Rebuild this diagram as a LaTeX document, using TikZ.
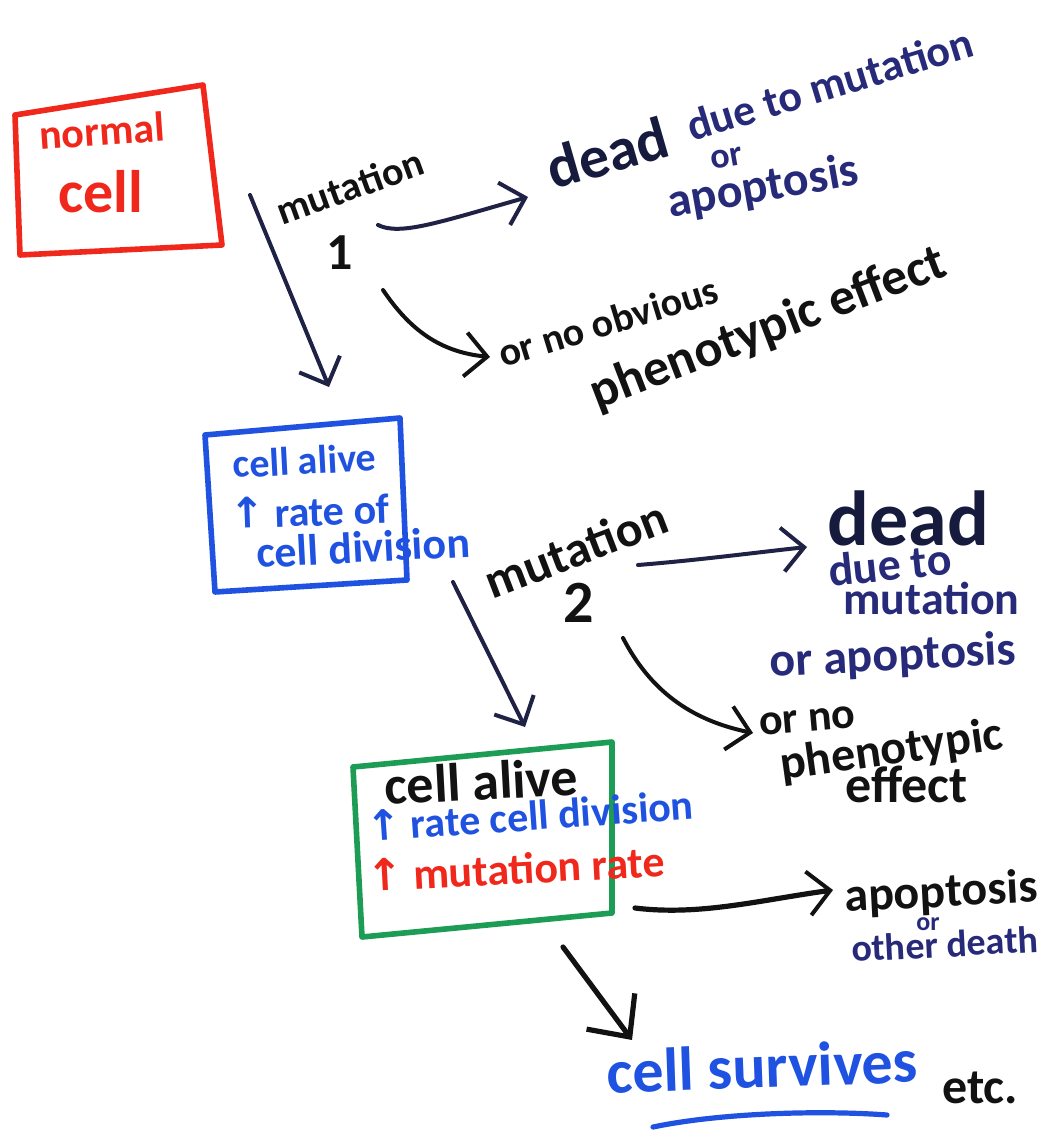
\documentclass[tikz,border=0pt]{standalone}
\usepackage{fontspec}
\setmainfont{Carlito}
\newfontfamily\arrfont{DejaVu Sans}
\usetikzlibrary{arrows.meta}
\definecolor{inkarrow}{HTML}{1F2244}
\definecolor{inkblack}{HTML}{121212}
\definecolor{inknavy}{HTML}{262A78}
\definecolor{inkdark}{HTML}{161A3C}
\definecolor{penblue}{HTML}{1F52E0}
\definecolor{penred}{HTML}{F0281C}
\definecolor{pengreen}{HTML}{1C9C55}
\newcommand\upar{{\arrfont\bfseries ↑}}
\newcommand\fsz[1]{\fontsize{#1}{#1}\selectfont\bfseries}
\begin{document}
\begin{tikzpicture}[x=0.5pt,y=-0.5pt,
  lbl/.style={inner sep=0pt, anchor=base west, font=\fsz{#1}},
  boxline/.style={line width=2.8pt, line join=round, line cap=round},
  arrowpen/.style={inkarrow, line width=2pt, line cap=round,
    -{Straight Barb[length=11pt,width=22pt,line width=2pt]}},
  bigarrow/.style={inkblack, line width=2.6pt, line cap=round,
    -{Straight Barb[length=16pt,width=30pt,line width=2.6pt]}}]
\useasboundingbox (0,0) rectangle (1055,1134);
\fill[white] (0,0) rectangle (1055,1134);

% boxes
\draw[boxline, penred] (15,115) -- (203,85) -- (222,245) -- (20,255) -- cycle;
\draw[boxline, penblue] (205,435) -- (400,418) -- (407,580) -- (215,592) -- cycle;
\draw[boxline, pengreen] (353,767) -- (612,742) -- (612,913) -- (362,937) -- cycle;

% texts
\node[lbl=21, penred, rotate=4] (normal) at (40,150) {normal};
\node[lbl=30, penred] (cellr) at (58,213) {cell};
\node[lbl=20, inkblack, rotate=20] (mut1) at (282,226) {mutation};
\node[lbl=26, inkblack] (one) at (326,270) {1};
\node[lbl=30, inkdark, rotate=16] (deadA) at (553,190) {dead};
\node[lbl=22, inknavy, rotate=17] (dueA) at (692,142) {due to mutation};
\node[lbl=18, inknavy, rotate=10] (orA) at (712,170) {or};
\node[lbl=24, inknavy, rotate=10] (apopA) at (670,218) {apoptosis};
\node[lbl=20, inkblack, rotate=17] (noobv) at (503,368) {or no obvious};
\node[lbl=26, inkblack, rotate=21] (phenA) at (597,410) {phenotypic effect};

\node[lbl=20, penblue, rotate=3] (alive1) at (233,478) {cell alive};
\node[lbl=21, penblue, rotate=2] (rate1) at (230,529) {\upar\ rate of};
\node[lbl=22, penblue, rotate=3] (div1) at (257,568) {cell division};

\node[lbl=25, inkblack, rotate=21] (mut2) at (492,600) {mutation};
\node[lbl=30, inkblack] (two) at (563,622) {2};

\node[lbl=39, inkdark] (deadB) at (827,545) {dead};
\node[lbl=23, inknavy, rotate=6] (dueB) at (830,587) {due to};
\node[lbl=23, inknavy] (mutB) at (843,614) {mutation};
\node[lbl=24, inknavy, rotate=3] (apopB) at (770,677) {or apoptosis};
\node[lbl=22, inkblack, rotate=5] (ornoB) at (760,736) {or no};
\node[lbl=24, inkblack, rotate=8] (phenB) at (782,780) {phenotypic};
\node[lbl=26, inkblack] (effB) at (845,802) {effect};

\node[lbl=27, inkblack, rotate=3] (alive2) at (385,805) {cell alive};
\node[lbl=21, penblue, rotate=4] (rate2) at (367,842) {\upar\ rate cell division};
\node[lbl=22, penred, rotate=3] (mrate) at (367,892) {\upar\ mutation rate};

\node[lbl=24, inkblack, rotate=3] (apopC) at (845,912) {apoptosis};
\node[lbl=13, inknavy] (orC) at (916,930) {or};
\node[lbl=19, inknavy, rotate=3] (otherC) at (852,962) {other death};

\node[lbl=31, penblue, rotate=2] (surv) at (607,1093) {cell survives};
\node[lbl=25, inkblack] (etc) at (942,1103) {etc.};

% connector end points
\coordinate (a1s) at (250,195);  \coordinate (a1e) at (329,387);
\coordinate (a2s) at (378,225);  \coordinate (a2e) at (528,197);
\coordinate (a3s) at (383,290);  \coordinate (a3e) at (490,357);
\coordinate (a4s) at (453,582);  \coordinate (a4e) at (525,727);
\coordinate (a5s) at (638,565);  \coordinate (a5e) at (807,547);
\coordinate (a6s) at (623,638);  \coordinate (a6e) at (753,733);
\coordinate (a7s) at (635,908);  \coordinate (a7e) at (833,890);
\coordinate (a8s) at (563,947);  \coordinate (a8e) at (632,1040);
\coordinate (ul1) at (653,1127); \coordinate (ul2) at (887,1115);

% connectors
\draw[arrowpen] (a1s) -- (a1e);
\draw[arrowpen] (a2s) .. controls (400,236) and (440,222) .. (a2e);
\draw[arrowpen, inkblack] (a3s) .. controls (410,330) and (440,352) .. (a3e);
\draw[arrowpen] (a4s) -- (a4e);
\draw[arrowpen] (a5s) .. controls (700,560) and (760,552) .. (a5e);
\draw[arrowpen, inkblack] (a6s) .. controls (650,690) and (690,720) .. (a6e);
\draw[arrowpen, inkblack, line width=2.6pt] (a7s) .. controls (700,916) and (760,900) .. (a7e);
\draw[bigarrow] (a8s) -- (a8e);
\draw[penblue, line width=2.6pt, line cap=round] (ul1) .. controls (720,1113) and (820,1110) .. (ul2);
\end{tikzpicture}
\end{document}
